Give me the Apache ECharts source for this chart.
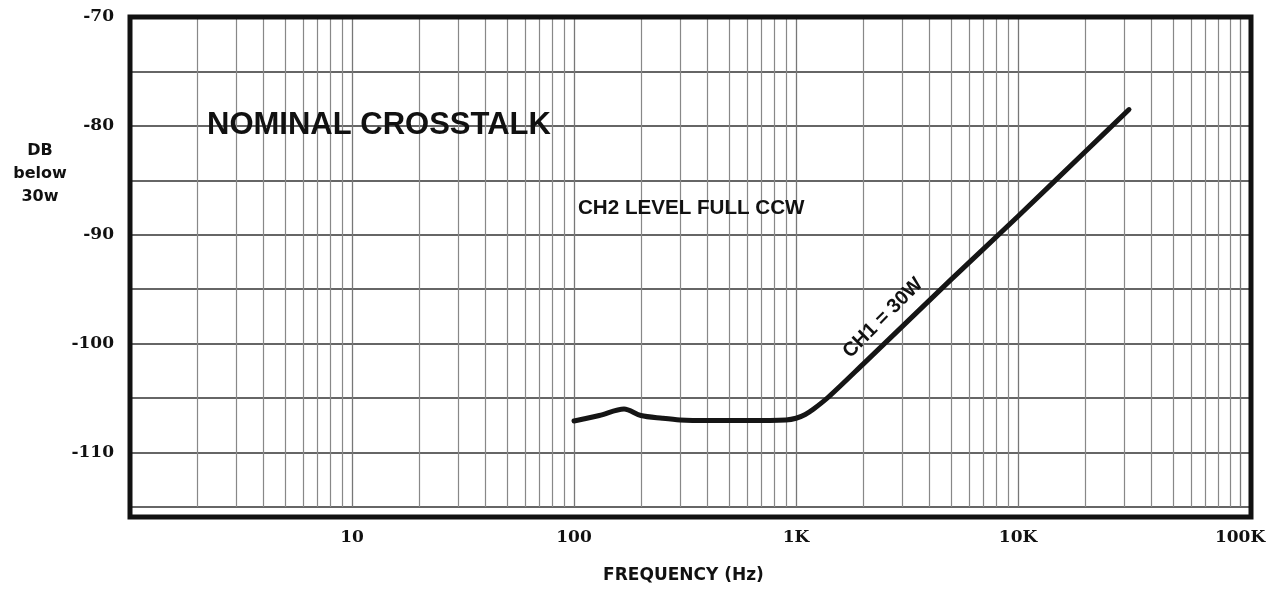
<!DOCTYPE html>
<html>
<head>
<meta charset="utf-8">
<script src="https://cdn.jsdelivr.net/npm/echarts@6/dist/echarts.min.js"></script>
<style>
html,body{margin:0;padding:0;background:#fff;}
#c{width:1270px;height:589px;}
</style>
</head>
<body>
<div id="c"></div>
<script>
// ---- data ----
const freqHz = [100, 130, 168, 200, 250, 300, 400, 600, 900, 1000, 1100, 1200, 1400, 2000, 5000, 10000, 20000, 31600];
const crosstalkDb = [-107.1, -106.6, -106.0, -106.6, -106.85, -107.0, -107.05, -107.05, -107.0, -106.85, -106.5, -106.0, -104.9, -101.9, -94.1, -88.3, -82.4, -78.5];
const xTickValues = [10, 100, 1000, 10000, 100000];
const xTickLabels = ['10', '100', '1K', '10K', '100K'];
const yTickValues = [-70, -80, -90, -100, -110];
const yTickLabels = ['-70', '-80', '-90', '-100', '-110'];

// minor vertical gridlines 2..9 x each decade (axis gridlines)
const minorX = [];
for (let d = 1; d <= 10000; d *= 10) {
  for (let m = 2; m <= 9; m++) minorX.push(m * d);
}

const GRID = {left: 130, right: 19, top: 17, bottom: 72};
const W = 1270, H = 589;

const chart = echarts.init(document.getElementById('c'), null, {renderer: 'canvas'});
const serifFont = '"DejaVu Serif", serif';

function xLabel(v) {
  for (let i = 0; i < xTickValues.length; i++) {
    if (Math.abs(Math.log10(v) - Math.log10(xTickValues[i])) < 1e-6) return xTickLabels[i];
  }
  return '';
}
function yLabel(v) {
  for (let i = 0; i < yTickValues.length; i++) {
    if (Math.abs(v - yTickValues[i]) < 1e-6) return yTickLabels[i];
  }
  return '';
}

chart.setOption({
  animation: false,
  backgroundColor: '#fff',
  grid: {
    left: GRID.left, right: GRID.right, top: GRID.top, bottom: GRID.bottom,
    show: false
  },
  xAxis: {
    type: 'log', logBase: 10, min: 1, max: 112000,
    axisLine: {show: false}, axisTick: {show: false},
    splitLine: {show: true, lineStyle: {color: '#777', width: 1.3}},
    axisLabel: {
      formatter: xLabel, margin: 22,
      fontFamily: serifFont, fontWeight: 'bold', fontSize: 17, color: '#111'
    },
    name: 'FREQUENCY (Hz)', nameLocation: 'middle', nameGap: 60,
    nameTextStyle: {fontFamily: '"DejaVu Sans", sans-serif', fontWeight: 'bold', fontSize: 17, color: '#111', padding: [0, 14, 0, 0]}
  },
  yAxis: {
    type: 'value', min: -115, max: -70, interval: 5,
    axisLine: {show: false}, axisTick: {show: false},
    splitLine: {show: true, lineStyle: {color: '#666', width: 2}},
    axisLabel: {
      formatter: yLabel, margin: 16,
      fontFamily: serifFont, fontWeight: 'bold', fontSize: 17, color: '#111'
    }
  },
  series: [
    {
      name: 'grid-minor', type: 'line', data: [], silent: true, z: 1,
      markLine: {
        silent: true, symbol: ['none', 'none'], z: 1, animation: false,
        label: {show: false},
        lineStyle: {color: '#888', width: 1.2, type: 'solid'},
        emphasis: {disabled: true},
        data: minorX.map(v => ({xAxis: v}))
      }
    },
    {
      name: 'Crosstalk', type: 'line', z: 5,
      data: freqHz.map((f, i) => [f, crosstalkDb[i]]),
      showSymbol: false, smooth: 0.3,
      lineStyle: {color: '#151515', width: 5, cap: 'round', join: 'round'}
    }
  ],
  graphic: [
    {
      type: 'rect', z: 20, silent: true,
      shape: {x: GRID.left, y: GRID.top, width: W - GRID.left - GRID.right, height: H - GRID.top - GRID.bottom},
      style: {fill: null, stroke: '#111', lineWidth: 5}
    },
    {
      type: 'text', left: 207, top: 110, z: 10,
      style: {text: 'NOMINAL CROSSTALK', font: 'bold 31px "Liberation Sans", Arial, sans-serif', fill: '#111'}
    },
    {
      type: 'text', left: 578, top: 198, z: 10,
      style: {text: 'CH2 LEVEL FULL CCW', font: 'bold 20.6px "Liberation Sans", Arial, sans-serif', fill: '#111'}
    },
    {
      type: 'text', x: 883, y: 318, rotation: Math.PI / 4, z: 10,
      style: {text: 'CH1 = 30W', font: 'bold 20px "Liberation Sans", Arial, sans-serif', fill: '#111', align: 'center', verticalAlign: 'middle'}
    },
    {
      type: 'text', x: 40, y: 174, z: 10,
      style: {text: 'DB\nbelow\n30w', font: 'bold 16px "DejaVu Sans", sans-serif', fill: '#111', align: 'center', verticalAlign: 'middle', lineHeight: 23}
    }
  ]
});
</script>
</body>
</html>
